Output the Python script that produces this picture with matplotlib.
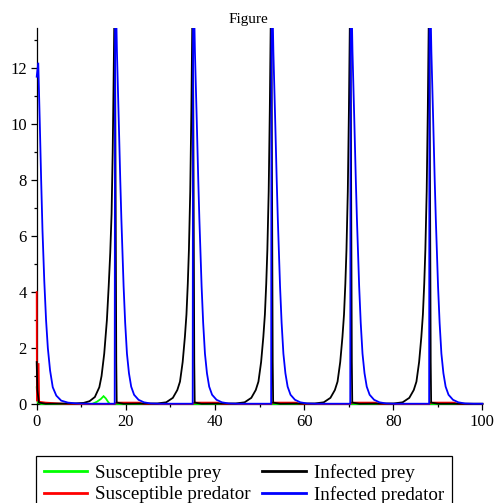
import matplotlib
matplotlib.use("Agg")
import matplotlib.pyplot as plt
from matplotlib.lines import Line2D
from matplotlib.patches import Rectangle

# ---------------- data ----------------
t_green = [0, 0.25, 1.0, 12.4, 13.5, 14.4, 15.0, 15.5, 16.0, 16.4, 100]
y_green = [0.6, 0.05, 0.0, 0.0, 0.08, 0.18, 0.28, 0.2, 0.08, 0.0, 0.0]

t_red = [0, 0.05, 0.42, 0.55, 2.0, 5.0, 7.0,
         17.5, 17.85, 23.0, 24.0,
         35.0, 35.35, 40.5, 41.5,
         52.6, 52.95, 58.1, 59.1,
         70.35, 70.7, 75.9, 76.9,
         88.05, 88.4, 93.6, 94.6, 100]
y_red = [4.0, 0.1, 1.46, 0.08, 0.05, 0.02, 0.0,
         0.0, 0.05, 0.05, 0.0,
         0.0, 0.05, 0.05, 0.0,
         0.0, 0.05, 0.05, 0.0,
         0.0, 0.05, 0.05, 0.0,
         0.0, 0.05, 0.05, 0.0, 0.0]

t_black = [0, 0.15, 0.5, 2.0,
           8.55, 10.55, 11.85, 13.05, 14.05, 14.55, 15.15, 15.75, 16.15, 16.5, 16.8, 17.05, 17.25, 17.4, 17.5, 17.85, 17.95, 19.5,
           27.05, 29.05, 30.55, 31.55, 32.15, 32.75, 33.25, 33.6, 33.9, 34.15, 34.45, 34.7, 34.9, 35.0, 35.35, 35.45, 37.0,
           44.65, 46.65, 48.15, 49.15, 49.75, 50.35, 50.85, 51.2, 51.5, 51.75, 52.05, 52.3, 52.5, 52.6, 52.95, 53.05, 54.6,
           62.4, 64.4, 65.9, 66.9, 67.5, 68.1, 68.6, 68.95, 69.25, 69.5, 69.8, 70.05, 70.25, 70.35, 70.7, 70.8, 72.4,
           80.1, 82.1, 83.6, 84.6, 85.2, 85.8, 86.3, 86.65, 86.95, 87.2, 87.5, 87.75, 87.95, 88.05, 88.4, 88.5, 90.1, 100]
y_black = [1.5, 0.5, 0.05, 0.01,
           0.02, 0.04, 0.1, 0.25, 0.6, 1.0, 1.8, 3.0, 4.2, 5.4, 6.8, 9.0, 11.5, 13.5, 16.0, 1.5, 0.05, 0.01,
           0.02, 0.06, 0.22, 0.5, 0.8, 1.5, 2.4, 3.2, 4.3, 5.5, 7.6, 10.5, 13.5, 16.0, 1.5, 0.05, 0.01,
           0.02, 0.06, 0.22, 0.5, 0.8, 1.5, 2.4, 3.2, 4.3, 5.5, 7.6, 10.5, 13.5, 16.0, 1.5, 0.05, 0.01,
           0.02, 0.06, 0.22, 0.5, 0.8, 1.5, 2.4, 3.2, 4.3, 5.5, 7.6, 10.5, 13.5, 16.0, 1.5, 0.05, 0.01,
           0.02, 0.06, 0.22, 0.5, 0.8, 1.5, 2.4, 3.2, 4.3, 5.5, 7.6, 10.5, 13.5, 16.0, 1.5, 0.05, 0.01, 0.01]

t_blue = [0, 0.35, 0.7, 1.0, 1.3, 1.7, 2.1, 2.5, 3.0, 3.6, 4.4, 5.5, 7.0, 9.0, 12.0,
          17.5, 17.6, 18.0, 18.4, 18.75, 19.0, 19.5, 19.85, 20.25, 20.7, 21.2, 21.85, 22.85, 24.05, 25.55, 27.5,
          35.0, 35.1, 35.5, 35.9, 36.25, 36.5, 37.0, 37.35, 37.75, 38.2, 38.7, 39.35, 40.35, 41.55, 43.05, 45.0,
          52.6, 52.7, 53.1, 53.5, 53.85, 54.1, 54.6, 54.95, 55.35, 55.8, 56.3, 56.95, 57.95, 59.15, 60.65, 62.6,
          70.35, 70.45, 70.85, 71.25, 71.6, 71.85, 72.35, 72.7, 73.1, 73.55, 74.05, 74.7, 75.7, 76.9, 78.4, 80.35,
          88.05, 88.15, 88.55, 88.95, 89.3, 89.55, 90.05, 90.4, 90.8, 91.25, 91.75, 92.4, 93.4, 94.6, 96.1, 98.05, 100]
y_blue = [11.7, 12.2, 10.0, 8.0, 6.2, 4.4, 3.0, 2.0, 1.2, 0.6, 0.3, 0.12, 0.05, 0.02, 0.01,
          0.01, 16.0, 12.6, 10.2, 8.0, 6.6, 4.2, 2.9, 1.8, 1.1, 0.62, 0.33, 0.15, 0.06, 0.02, 0.01,
          0.01, 16.0, 12.6, 10.2, 8.0, 6.6, 4.2, 2.9, 1.8, 1.1, 0.62, 0.33, 0.15, 0.06, 0.02, 0.01,
          0.01, 16.0, 12.6, 10.2, 8.0, 6.6, 4.2, 2.9, 1.8, 1.1, 0.62, 0.33, 0.15, 0.06, 0.02, 0.01,
          0.01, 16.0, 12.6, 10.2, 8.0, 6.6, 4.2, 2.9, 1.8, 1.1, 0.62, 0.33, 0.15, 0.06, 0.02, 0.01,
          0.01, 16.0, 12.6, 10.2, 8.0, 6.6, 4.2, 2.9, 1.8, 1.1, 0.62, 0.33, 0.15, 0.06, 0.02, 0.01, 0.01]

labels = ["Susceptible prey", "Susceptible predator", "Infected prey", "Infected predator"]
colors = ["#00ff00", "#ff0000", "#000000", "#0000ff"]
x_ticks = [0, 20, 40, 60, 80, 100]
y_ticks = [0, 2, 4, 6, 8, 10, 12]
title = "Figure"

# ---------------- figure ----------------
plt.rcParams['font.family'] = ['Liberation Serif', 'DejaVu Serif']
W, H = 500, 503
fig = plt.figure(figsize=(W / 100, H / 100), dpi=100)
ax = fig.add_axes([36.7 / W, (H - 404) / H, (482.4 - 36.7) / W, (404 - 28.3) / H])

# clip region: the axes area, slightly widened left/right/bottom so strokes on the axis lines show
clip_rect = Rectangle((-0.01, -0.01), 1.02, 1.01, transform=ax.transAxes,
                      facecolor='none', edgecolor='none')
ax.add_patch(clip_rect)

series = [(t_green, y_green), (t_red, y_red), (t_black, y_black), (t_blue, y_blue)]
for (tx, ty), c in zip(series, colors):
    ln, = ax.plot(tx, ty, color=c, lw=1.3, solid_joinstyle='miter', zorder=3)
    ln.set_clip_path(clip_rect)

ax.set_xlim(0, 100)
ax.set_ylim(0, 13.43)
for s in ['top', 'right']:
    ax.spines[s].set_visible(False)
for s in ['left', 'bottom']:
    ax.spines[s].set_linewidth(0.9)
    ax.spines[s].set_color('black')

ax.set_xticks(x_ticks)
ax.set_xticklabels([str(v) for v in x_ticks])
ax.set_yticks(y_ticks)
ax.set_yticklabels([str(v) for v in y_ticks])
ax.set_xticks(range(10, 100, 20), minor=True)
ax.set_yticks([1, 3, 5, 7, 9, 11, 13], minor=True)
ax.tick_params(which='major', direction='out', length=4, width=0.9, labelsize=12, pad=3)
ax.tick_params(which='minor', direction='out', length=2.5, width=0.9)

fig.text(0.496, 1 - 23 / H, title, ha='center', va='baseline', fontsize=11)

handles = [Line2D([], [], color=c, lw=2) for c in colors]
leg = fig.legend(handles, labels, ncol=2, loc='upper left',
                 bbox_to_anchor=(35.7 / W, 1 - 456 / H), borderaxespad=0,
                 fancybox=False, edgecolor='black', framealpha=1, fontsize=13.7,
                 handlelength=2.3, handletextpad=0.42, columnspacing=0.6,
                 borderpad=0.42, labelspacing=0.22)
leg.get_frame().set_linewidth(0.9)

fig.savefig("out.png", dpi=100)
